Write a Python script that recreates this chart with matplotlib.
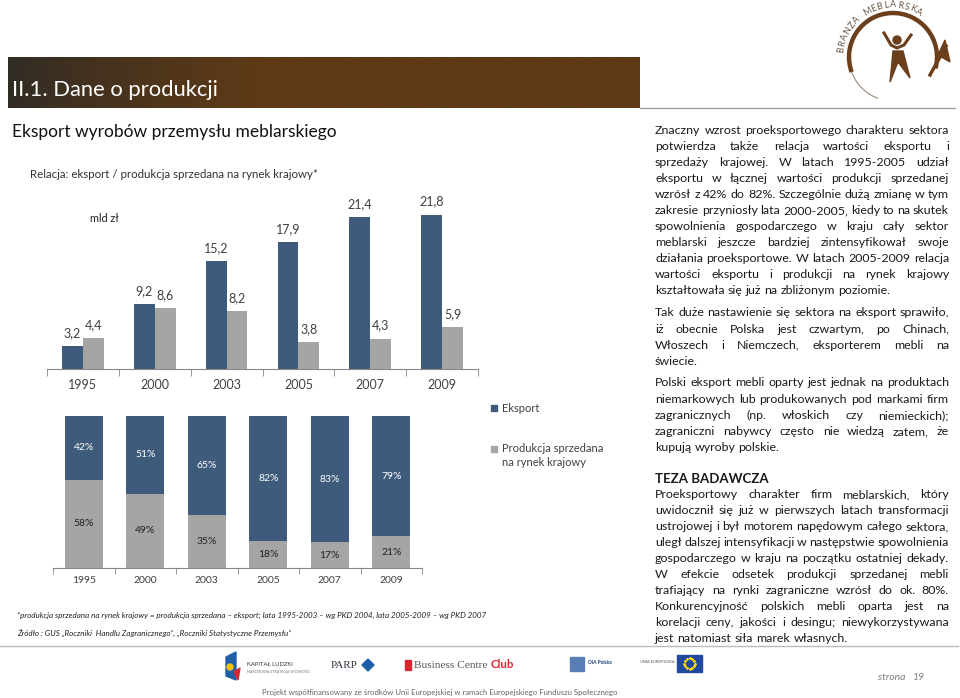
import numpy as np
import matplotlib.pyplot as plt
from matplotlib.patches import Rectangle, Circle, Arc, Polygon

plt.rcParams['font.family'] = ['Lato', 'DejaVu Sans']

# dane
years = ['1995', '2000', '2003', '2005', '2007', '2009']
eksport = [3.2, 9.2, 15.2, 17.9, 21.4, 21.8]
krajowy = [4.4, 8.6, 8.2, 3.8, 4.3, 5.9]
eksport_pct = [42, 51, 65, 82, 83, 79]
krajowy_pct = [58, 49, 35, 18, 17, 21]

BLUE = '#3E5B7B'
GRAY = '#A5A5A5'
TXT = '#404040'

W, H = 960, 698
fig = plt.figure(figsize=(W / 100, H / 100), dpi=100)
fig.patch.set_facecolor('white')

# tło w pikselach
bg = fig.add_axes([0, 0, 1, 1])
bg.set_xlim(0, W)
bg.set_ylim(H, 0)
bg.axis('off')
renderer = fig.canvas.get_renderer()


def px_axes(x0, y0, w, h):
    return fig.add_axes([x0 / W, 1 - (y0 + h) / H, w / W, h / H])


# nagłówek z gradientem
t = np.linspace(0, 1, 300)
ramp = np.clip(t / 0.4, 0, 1) ** 0.8
c0 = np.array([0x30, 0x2c, 0x25]) / 255
c1 = np.array([0x5f, 0x3a, 0x16]) / 255
grad = (c0[None, :] * (1 - ramp[:, None]) + c1[None, :] * ramp[:, None])[None, :, :]
bg.imshow(grad, extent=(8, 640, 108, 57), aspect='auto', zorder=0)
bg.set_xlim(0, W)
bg.set_ylim(H, 0)
bg.text(12, 96, 'II.1. Dane o produkcji', color='white', fontsize=15.8, va='baseline')
bg.plot([640, 955], [108, 108], color='#a0a0a0', lw=1)

bg.text(12, 132, 'Eksport wyrobów przemysłu meblarskiego', fontsize=12.5, va='center', color='#111111')
bg.text(30, 175, 'Relacja: eksport / produkcja sprzedana na rynek krajowy*', fontsize=8.3,
        va='center', color='#333333')

# logo w prawym górnym rogu
cx, cy, r = 893, 57, 44
bg.add_patch(Arc((cx, cy), 2 * r, 2 * r, theta1=-200, theta2=15, color='#6b3f1c', lw=3.2))
bg.add_patch(Arc((cx, cy), 2 * r, 2 * r, theta1=-250, theta2=-200, color='#9a8a7a', lw=0.8))
bg.add_patch(Polygon([[945, 40], [950, 62], [938, 55]], closed=True, color='#6b3f1c'))
bg.plot([930, 946], [75, 46], color='#6b3f1c', lw=2.5)
bg.add_patch(Circle((897, 40), 4, color='#6b3f1c'))
bg.plot([884, 891, 897, 904, 911], [33, 45, 48, 45, 35], color='#6b3f1c', lw=2.2)
bg.add_patch(Polygon([[893, 51], [903, 51], [910, 78], [898, 62], [890, 82]], closed=True, color='#6b3f1c'))
logo_txt = 'BRANŻA MEBLARSKA'
angs = np.linspace(172, 60, len(logo_txt))
for ch, a in zip(logo_txt, angs):
    ar = np.deg2rad(a)
    bg.text(cx + 52 * np.cos(ar), cy - 52 * np.sin(ar), ch, rotation=a - 90, fontsize=6.5,
            ha='center', va='center', color='#6b5a4a')

# wykres 1: wartości w mld zł
ax1 = px_axes(47, 192, 431, 177)
x = np.arange(len(years))
bw = 0.29
ax1.bar(x - bw / 2, eksport, bw, color=BLUE)
ax1.bar(x + bw / 2, krajowy, bw, color=GRAY)
for i in range(len(years)):
    ax1.text(x[i] - bw / 2, eksport[i] + 1.0, f'{eksport[i]:.1f}'.replace('.', ','),
             ha='center', va='bottom', fontsize=9, color=TXT)
    ax1.text(x[i] + bw / 2, krajowy[i] + 1.0, f'{krajowy[i]:.1f}'.replace('.', ','),
             ha='center', va='bottom', fontsize=9, color=TXT)
ax1.set_xlim(-0.5, 5.5)
ax1.set_ylim(0, 25)
ax1.set_xticks(x)
ax1.set_xticklabels(years, fontsize=9, color=TXT)
ax1.set_xticks(np.arange(-0.5, 6), minor=True)
ax1.tick_params(axis='x', which='major', length=0, pad=7)
ax1.tick_params(axis='x', which='minor', length=5, color='#888888')
ax1.set_yticks([])
for s in ['top', 'right', 'left']:
    ax1.spines[s].set_visible(False)
ax1.spines['bottom'].set_color('#888888')
ax1.patch.set_alpha(0)
bg.text(90, 219, 'mld zł', fontsize=7.8, va='center', color='#222222')

# wykres 2: struktura procentowa
ax2 = px_axes(53, 416, 369, 152)
bw2 = 0.62
ax2.bar(x, krajowy_pct, bw2, color=GRAY)
ax2.bar(x, eksport_pct, bw2, bottom=krajowy_pct, color=BLUE)
for i in range(len(years)):
    ax2.text(x[i], krajowy_pct[i] / 2, f'{krajowy_pct[i]}%', ha='center', va='center',
             fontsize=7.5, color='#222222')
    ax2.text(x[i], krajowy_pct[i] + eksport_pct[i] / 2, f'{eksport_pct[i]}%', ha='center',
             va='center', fontsize=7.5, color='white')
ax2.set_xlim(-0.5, 5.5)
ax2.set_ylim(0, 100)
ax2.set_xticks(x)
ax2.set_xticklabels(years, fontsize=7.5, color=TXT)
ax2.set_xticks(np.arange(-0.5, 6), minor=True)
ax2.tick_params(axis='x', which='major', length=0, pad=6)
ax2.tick_params(axis='x', which='minor', length=4, color='#888888')
ax2.set_yticks([])
for s in ['top', 'right', 'left']:
    ax2.spines[s].set_visible(False)
ax2.spines['bottom'].set_color('#888888')
ax2.patch.set_alpha(0)

# legenda
bg.add_patch(Rectangle((491, 405), 6, 6, color=BLUE))
bg.text(502, 408, 'Eksport', fontsize=8, va='center', color=TXT)
bg.add_patch(Rectangle((491, 446), 6, 6, color=GRAY))
bg.text(502, 449, 'Produkcja sprzedana', fontsize=8, va='center', color=TXT)
bg.text(502, 462, 'na rynek krajowy', fontsize=8, va='center', color=TXT)

# przypisy
bg.text(17, 615, '*produkcja sprzedana na rynek krajowy = produkcja sprzedana – eksport; '
        'lata 1995-2003 – wg PKD 2004, lata 2005-2009 – wg PKD 2007',
        fontsize=5.8, style='italic', va='center', color='#222222')
bg.text(17, 633, 'Źródło : GUS „Roczniki  Handlu Zagranicznego”, „Roczniki Statystyczne Przemysłu”',
        fontsize=5.8, style='italic', va='center', color='#222222')

# tekst po prawej, wyjustowany
par1 = [
    'Znaczny wzrost proeksportowego charakteru sektora',
    'potwierdza także relacja wartości eksportu i',
    'sprzedaży krajowej. W latach 1995-2005 udział',
    'eksportu w łącznej wartości produkcji sprzedanej',
    'wzrósł z 42% do 82%. Szczególnie dużą zmianę w tym',
    'zakresie przyniosły lata 2000-2005, kiedy to na skutek',
    'spowolnienia gospodarczego w kraju cały sektor',
    'meblarski jeszcze bardziej zintensyfikował swoje',
    'działania proeksportowe. W latach 2005-2009 relacja',
    'wartości eksportu i produkcji na rynek krajowy',
    'kształtowała się już na zbliżonym poziomie.',
]
par2 = [
    'Tak duże nastawienie się sektora na eksport sprawiło,',
    'iż obecnie Polska jest czwartym, po Chinach,',
    'Włoszech i Niemczech, eksporterem mebli na',
    'świecie.',
]
par3 = [
    'Polski eksport mebli oparty jest jednak na produktach',
    'niemarkowych lub produkowanych pod markami firm',
    'zagranicznych (np. włoskich czy niemieckich);',
    'zagraniczni nabywcy często nie wiedzą zatem, że',
    'kupują wyroby polskie.',
]
par4 = [
    'Proeksportowy charakter firm meblarskich, który',
    'uwidocznił się już w pierwszych latach transformacji',
    'ustrojowej i był motorem napędowym całego sektora,',
    'uległ dalszej intensyfikacji w następstwie spowolnienia',
    'gospodarczego w kraju na początku ostatniej dekady.',
    'W efekcie odsetek produkcji sprzedanej mebli',
    'trafiający na rynki zagraniczne wzrósł do ok. 80%.',
    'Konkurencyjność polskich mebli oparta jest na',
    'korelacji ceny, jakości i desingu; niewykorzystywana',
    'jest natomiast siła marek własnych.',
]


def justify(lines, x0, x1, y0, dy, fs=8.9):
    for k, line in enumerate(lines):
        words = line.split()
        y = y0 + k * dy
        ts = [bg.text(0, y, w, fontsize=fs, va='center', color='#1a1a1a') for w in words]
        ws = [tt.get_window_extent(renderer).width for tt in ts]
        if k == len(lines) - 1 or len(words) == 1:
            gap = fs * 0.36
        else:
            gap = (x1 - x0 - sum(ws)) / (len(words) - 1)
        xx = x0
        for tt, w in zip(ts, ws):
            tt.set_x(xx)
            xx += w + gap


justify(par1, 655, 949, 130, 16.1)
justify(par2, 655, 949, 313, 16.1)
justify(par3, 655, 949, 383, 16.2)
bg.text(655, 479, 'TEZA BADAWCZA', fontsize=9.5, fontweight='bold', va='center', color='#1a1a1a')
justify(par4, 655, 949, 495, 16.0)

# stopka
bg.plot([0, 958], [646, 646], color='#bbbbbb', lw=1)
bg.add_patch(Polygon([[226, 657], [236, 652], [236, 680], [226, 676]], closed=True, color='#1f5fa8'))
bg.add_patch(Circle((230, 667), 3, color='#f2c300'))
bg.add_patch(Polygon([[234, 672], [240, 668], [238, 680]], closed=True, color='#d7262e'))
bg.text(247, 665, 'KAPITAŁ LUDZKI', fontsize=4.2, va='center', color='#333333')
bg.text(247, 672, 'NARODOWA STRATEGIA SPÓJNOŚCI', fontsize=2.6, va='center', color='#777777')
bg.text(331, 665, 'PARP', fontsize=8, family='Liberation Serif', va='center', color='#333344')
bg.add_patch(Polygon([[362, 665], [368, 659], [374, 665], [368, 671]], closed=True, color='#1f5fa8'))
bg.add_patch(Rectangle((405, 660), 6, 10, color='#d7262e'))
bcc = bg.text(414, 665, 'Business Centre', fontsize=8.2, family='Liberation Serif', va='center',
              color='#555555')
bcc_w = bcc.get_window_extent(renderer).width
bg.text(414 + bcc_w + 3, 665, 'Club', fontsize=8.2, fontweight='bold', va='center', color='#d7262e')
bg.add_patch(Rectangle((570, 657), 14, 14, color='#5a7fb8'))
bg.text(588, 663, 'OIA Polska', fontsize=3.5, fontweight='bold', va='center', color='#1f3f7a')
bg.text(640, 662, 'UNIA EUROPEJSKA', fontsize=2.8, va='center', color='#555555')
bg.add_patch(Rectangle((677, 655), 25, 17, color='#1f4aa0'))
for a in np.linspace(0, 2 * np.pi, 12, endpoint=False):
    bg.plot(689.5 + 5.5 * np.cos(a), 663.5 + 5.5 * np.sin(a), marker='*', ms=1.4, color='#ffd700')
bg.text(262, 692, 'Projekt współfinansowany ze środków Unii Europejskiej w ramach '
        'Europejskiego Funduszu Społecznego', fontsize=5.6, va='center', color='#666666')
bg.text(878, 677, 'strona', fontsize=7.5, style='italic', va='center', color='#7f7f7f')
bg.text(913, 677, '19', fontsize=7.5, style='italic', va='center', color='#7f7f7f')

fig.savefig('out.png', dpi=100)
